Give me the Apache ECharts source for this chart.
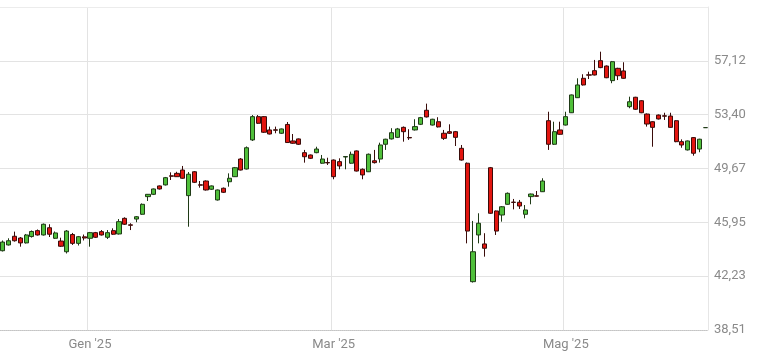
<!DOCTYPE html>
<html>
<head>
<meta charset="utf-8">
<script src="https://cdn.jsdelivr.net/npm/echarts@6/dist/echarts.min.js"></script>
<style>
html,body{margin:0;padding:0;background:#fff;}
#chart{width:781px;height:362px;}
</style>
</head>
<body>
<div id="chart"></div>
<script>
// Trading-day categories (weekdays, exchange holidays skipped)
const startDate = '2024-12-05';
const holidays = ['2024-12-24','2024-12-25','2024-12-26','2024-12-31','2025-01-01','2025-04-18','2025-04-21','2025-05-01'];
const candleCount = 122;

// X tick labels and the category index where each is shown
const xTickLabels = ["Gen '25", "Mar '25", "Mag '25"];
const xTickIndex = [15, 57, 97];

// Y tick labels (values)
const yTicks = [38.51, 42.23, 45.95, 49.67, 53.40, 57.12];
const yMin = 38.51;
const yMax = 60.84;

// OHLC values
const opens = [43.99,44.39,44.99,44.87,44.53,44.97,45.38,45.08,45.58,44.85,44.66,43.92,45.11,44.50,44.95,44.85,45.24,45.31,44.92,45.38,
45.15,46.23,45.78,46.18,46.51,47.73,47.89,48.47,48.54,49.17,49.34,49.57,47.80,49.45,48.55,48.81,48.24,47.50,48.31,48.76,
49.11,50.33,49.64,51.65,53.26,53.26,52.34,52.35,52.11,52.72,51.58,51.72,50.77,50.61,50.77,50.04,50.09,50.26,50.15,50.47,
50.04,50.89,49.62,49.45,50.21,50.33,51.35,51.72,51.83,52.52,51.82,52.34,52.73,53.70,52.68,52.91,52.11,52.22,52.22,51.07,
50.04,41.85,45.08,44.46,49.73,46.74,46.46,47.20,47.35,47.34,46.51,47.73,47.79,48.07,52.98,51.35,52.34,52.68,53.53,54.57,
55.91,56.15,56.44,57.13,56.76,55.75,56.60,56.42,53.95,54.60,54.36,53.44,52.91,53.37,53.32,53.30,52.98,51.53,50.96,51.81,
51.02,52.50];
const closes = [44.59,44.68,44.68,44.53,45.08,45.32,45.08,45.82,45.13,45.22,44.30,45.35,44.50,44.96,44.87,45.24,44.92,45.08,45.24,45.13,
46.00,45.82,45.75,46.34,47.20,47.89,48.26,48.26,49.04,49.14,49.11,49.00,49.28,48.72,48.52,48.19,48.47,48.19,48.03,49.00,
49.73,49.57,51.11,53.26,52.80,52.18,52.06,52.32,52.41,51.47,51.42,51.35,50.49,50.38,51.02,50.33,50.06,49.11,49.85,50.50,
50.66,49.50,49.23,50.66,50.08,51.30,51.70,52.15,52.41,52.22,51.79,52.57,53.19,53.24,53.08,52.55,51.76,52.11,51.83,50.26,
45.35,43.92,45.89,44.16,46.58,45.35,47.03,47.96,47.33,47.08,46.81,47.91,47.76,48.81,51.35,52.22,52.04,53.26,54.76,55.45,
55.45,56.13,56.14,56.65,55.95,57.06,56.09,55.91,54.29,53.77,53.53,52.75,52.52,53.10,53.29,52.52,51.53,51.30,51.58,50.73,
51.70,52.50];
const lows = [43.94,44.35,44.62,44.27,44.49,44.90,45.04,45.04,44.94,44.80,44.25,43.80,44.39,44.35,44.70,44.27,44.87,45.04,44.80,45.08,
45.11,45.77,45.42,45.96,46.47,47.43,47.84,48.22,48.50,48.88,49.09,48.96,45.65,48.67,48.35,48.15,48.19,47.46,47.98,48.42,
49.09,49.54,49.61,51.58,52.75,52.13,52.03,52.11,52.06,51.44,51.38,51.30,50.08,50.33,50.73,50.00,49.92,48.93,49.62,49.62,
50.00,49.47,48.93,49.43,50.02,50.08,50.96,51.68,51.78,51.53,51.65,52.30,52.68,53.20,52.65,52.51,51.65,52.06,51.23,50.22,
44.50,41.79,44.50,43.58,46.54,45.08,46.00,47.17,46.85,46.88,46.23,47.20,47.73,48.05,50.96,51.30,52.01,52.65,53.51,54.55,
55.41,55.86,56.11,56.61,55.92,55.57,55.79,55.88,53.84,53.73,53.50,52.57,51.18,53.06,53.03,52.49,51.49,51.11,50.92,50.56,
50.80,52.50];
const highs = [44.70,44.85,45.31,44.94,45.15,45.39,45.46,45.87,45.82,45.32,44.89,45.42,45.22,45.01,45.11,45.29,45.29,45.42,45.42,45.54,
46.18,46.30,45.89,46.39,47.26,47.91,48.29,48.50,49.09,49.41,49.45,49.85,49.43,49.50,48.81,48.85,48.50,48.22,48.36,49.34,
49.78,50.40,51.20,53.37,53.37,53.30,52.57,52.57,52.44,52.89,52.06,51.75,50.96,50.64,51.18,50.61,50.42,50.30,50.38,50.52,
50.84,50.92,49.68,50.71,50.96,51.46,51.73,52.46,52.48,52.58,52.39,53.08,53.24,54.16,53.11,53.22,52.34,52.73,52.27,51.30,
50.09,46.05,46.58,45.20,49.78,46.77,47.08,48.02,47.57,47.50,47.15,47.94,48.12,49.00,53.60,52.91,52.91,53.60,54.79,55.91,
56.19,56.37,57.18,57.75,56.80,57.11,56.64,57.02,54.64,54.63,54.40,53.48,52.94,53.41,53.53,53.53,53.02,51.69,51.61,51.85,
51.73,52.50];

function pad(n){return n<10?'0'+n:''+n;}
function buildDates(){
  const out=[]; const d=new Date(startDate+'T12:00:00Z');
  while(out.length<candleCount){
    const wd=d.getUTCDay();
    const s=d.getUTCFullYear()+'-'+pad(d.getUTCMonth()+1)+'-'+pad(d.getUTCDate());
    if(wd!==0&&wd!==6&&holidays.indexOf(s)<0) out.push(s);
    d.setUTCDate(d.getUTCDate()+1);
  }
  return out;
}
const categories = buildDates();
const ohlc = opens.map((o,i)=>[o, closes[i], lows[i], highs[i]]);

const FONT = "Roboto, sans-serif";
const showTick = (idx)=> xTickIndex.indexOf(idx) >= 0;

const chart = echarts.init(document.getElementById('chart'), null, {renderer:'canvas'});
chart.setOption({
  animation:false,
  backgroundColor:'#ffffff',
  grid:{left:0,right:73,top:7,bottom:32,show:false,containLabel:false,outerBoundsMode:'none'},
  xAxis:[{
    type:'category',
    data:categories,
    boundaryGap:true,
    axisLine:{show:true,lineStyle:{color:'#c4c4c4',type:[1,1],width:1}},
    axisTick:{show:false},
    axisLabel:{
      interval:(idx)=>showTick(idx),
      formatter:(v,idx)=>{const k=xTickIndex.indexOf(idx);return k>=0?xTickLabels[k]:'';},
      color:'#8a8a8a',fontFamily:FONT,fontSize:13,margin:8
    },
    splitLine:{show:true,interval:(idx)=>showTick(idx),lineStyle:{color:'#e3e3e3',width:1}}
  },{
    type:'category',
    data:categories,
    position:'top',
    boundaryGap:true,
    axisLine:{show:true,lineStyle:{color:'#ececec',width:1}},
    axisTick:{show:false},
    axisLabel:{show:false},
    splitLine:{show:false}
  }],
  yAxis:{
    type:'value',
    position:'right',
    min:yMin,max:yMax,
    scale:true,
    axisLine:{show:true,lineStyle:{color:'#e6e6e6',width:1}},
    axisTick:{show:false,customValues:yTicks},
    axisLabel:{
      customValues:yTicks,
      formatter:(v)=>v.toFixed(2).replace('.',','),
      color:'#8a8a8a',fontFamily:FONT,fontSize:13,margin:6
    },
    splitLine:{show:true,lineStyle:{color:'#e3e3e3',width:1}}
  },
  series:[{
    type:'candlestick',
    xAxisIndex:0,
    data:ohlc,
    barWidth:'80%',
    itemStyle:{
      color:'#4fbf3a',color0:'#e3150f',
      borderColor:'#1f3a16',borderColor0:'#3a0c0a',
      borderWidth:1
    }
  }]
});
</script>
</body>
</html>
